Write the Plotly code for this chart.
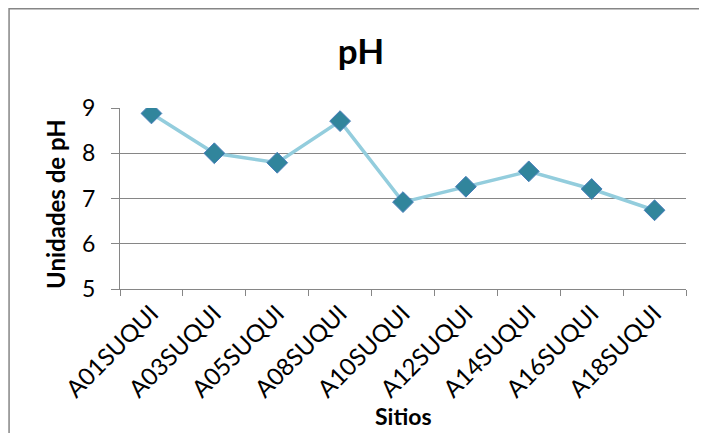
import plotly.graph_objects as go

sitios = ["A01SUQUI", "A03SUQUI", "A05SUQUI", "A08SUQUI", "A10SUQUI",
          "A12SUQUI", "A14SUQUI", "A16SUQUI", "A18SUQUI"]
ph = [8.88, 8.00, 7.79, 8.71, 6.92, 7.26, 7.60, 7.21, 6.74]

FONT = "Lato"

fig = go.Figure()

fig.add_trace(go.Scatter(
    x=sitios,
    y=ph,
    mode="lines+markers",
    line=dict(color="#93CDDD", width=3.5),
    marker=dict(symbol="diamond", size=16, color="#31859C",
                line=dict(color="#4A7EBB", width=1)),
    showlegend=False,
))

# outer chart border (right and bottom edges fall outside the view)
fig.add_shape(type="rect", xref="paper", yref="paper",
              x0=-0.196, x1=1.2, y0=-0.9, y1=1.548,
              line=dict(color="#868686", width=1.5), layer="below")

# axis titles
fig.add_annotation(text="<b>Unidades de pH</b>", xref="paper", yref="paper",
                   x=-0.113, y=0.47, textangle=-90, showarrow=False,
                   xanchor="center", yanchor="middle", font=dict(size=24))
fig.add_annotation(text="<b>Sitios</b>", xref="paper", yref="paper",
                   x=0.5, y=-0.70, showarrow=False,
                   xanchor="center", yanchor="middle", font=dict(size=23))

fig.update_layout(
    width=699,
    height=425,
    margin=dict(l=112, r=21, t=100, b=144, autoexpand=False),
    paper_bgcolor="white",
    plot_bgcolor="white",
    font=dict(family=FONT, color="black"),
    title=dict(text="<b>pH</b>", x=0.505, xanchor="center", y=0.896,
               yanchor="middle", font=dict(size=35, family=FONT)),
    xaxis=dict(
        type="category",
        range=[-0.5, 8.5],
        tickson="boundaries",
        ticks="outside",
        ticklen=6,
        tickcolor="#868686",
        showline=True,
        linecolor="#868686",
        linewidth=1,
        showgrid=False,
        tickangle=-45,
        tickfont=dict(size=24),
        automargin=False,
    ),
    yaxis=dict(
        range=[5, 9],
        dtick=1,
        ticks="outside",
        ticklen=8,
        tickcolor="#868686",
        showline=True,
        linecolor="#868686",
        linewidth=1,
        showgrid=True,
        gridcolor="#868686",
        gridwidth=1,
        zeroline=False,
        tickfont=dict(size=23),
        ticklabelstandoff=11,
        automargin=False,
    ),
)

fig.write_html("out.html")
